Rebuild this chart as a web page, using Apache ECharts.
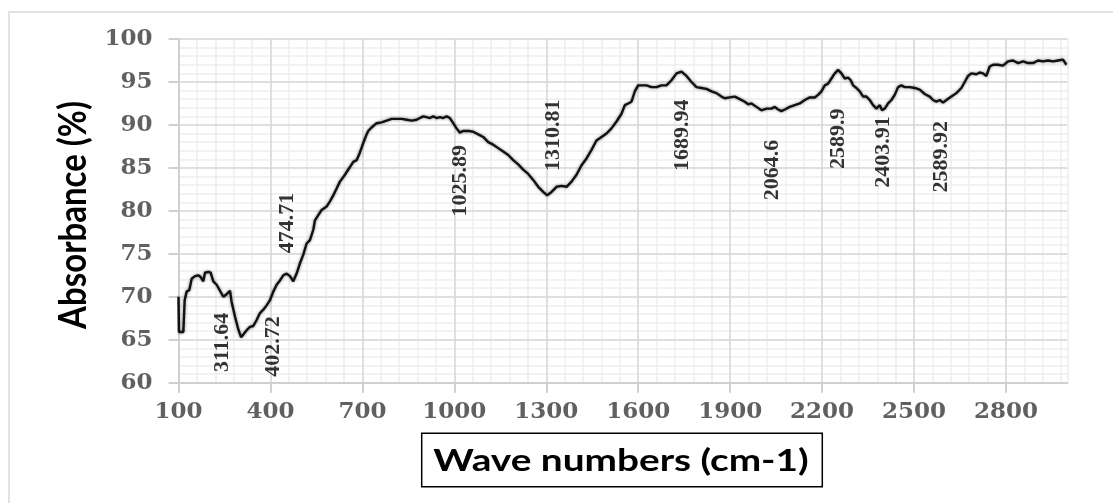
<!DOCTYPE html>
<html><head><meta charset="utf-8">
<script src="https://cdn.jsdelivr.net/npm/echarts@6/dist/echarts.min.js"></script>
<style>html,body{margin:0;padding:0;background:#fff}#c{width:1113px;height:503px}</style>
</head><body><div id="c"></div>
<script>
const waveNumbers = [100,101.6,115.8,120.1,126.6,135.3,143,153.8,164.7,172.3,181,186.4,197.3,205,213.6,224.5,235.4,246.2,257.1,268,273.4,284.3,295.2,304,311.5,322.3,333.2,344.1,355,365.8,376.7,387.6,398.4,409.3,420.2,431.1,441.9,452.8,463.7,474.5,485.4,496.3,507.2,518,528.9,539.8,
545.2,556.1,567,583.3,594.1,605,615.9,626.7,643,659.4,670.2,681.1,692,702.9,713.7,719.2,730,746.4,762.7,779,795.3,811.6,
827.9,844.2,860.5,876.8,887.7,898.6,909.4,920.3,931.2,942.1,952.9,963.8,974.7,985.6,996.4,1007.3,1018.2,1029,1045.4,1061.7,1078,1094.3,1110.6,1126.9,1143.2,1159.5,1175.8,1192.1,1208.4,1224.7,1241,1257.4,1273.7,
1290,1303,1317.2,1333.5,1349.8,1366.1,1382.4,1398.7,1415,1431.3,1447.6,1463.9,1480.2,1496.5,1512.8,1529.2,1545.5,1556.3,1567.2,1578.1,1588.9,1599.8,1610.7,1627,1643.3,1659.6,1675.9,1692.2,1708.5,1724.9,1741.2,1757.5,1773.8,1790.1,1806.4,1822.7,1839,1855.3,1871.6,
1882.5,1898.8,1915.1,1931.4,1947.8,1958.6,1969.5,1985.8,2002.1,2018.4,2034.7,2045.6,2056.5,2067.3,2078.2,2094.5,2110.8,2127.1,2143.4,2159.7,2176,2186.9,2197.8,2208.7,2219.5,2230.4,2241.3,2252.2,2263,2273.9,2284.8,2293.5,2301.1,2312,2322.8,2333.7,2344.6,2355.4,2366.3,2377.2,2388.1,2395.7,2404.4,2415.2,2426.1,2437,2447.8,2458.7,
2469.6,2485.9,2502.2,2518.5,2534.8,2551.1,2562,2572.9,2583.8,2594.6,2605.5,2621.8,2638.1,2654.4,2665.3,2676.2,2687,2703.3,2714.2,2725.1,2736,2746.8,2757.7,2774,2790.3,2806.6,2822.9,2839.3,2855.6,2871.9,2888.2,2904.5,2920.8,2937.1,2953.4,2969.7,2986,2997];
const absorbance = [70.0,65.9,65.9,69.6,70.6,70.8,72.1,72.4,72.5,72.3,71.8,72.8,72.9,72.8,71.8,71.4,70.7,70.0,70.3,70.7,69.4,67.7,66.2,65.3,65.6,66.1,66.5,66.6,67.3,68.1,68.5,69.0,69.6,70.6,71.4,71.9,72.5,72.7,72.4,71.8,72.7,73.9,74.9,76.2,76.6,77.8,
78.9,79.5,80.1,80.5,81.1,81.8,82.6,83.4,84.2,85.1,85.7,85.9,86.8,87.9,88.9,89.3,89.7,90.2,90.3,90.5,90.7,90.7,
90.7,90.6,90.5,90.6,90.8,91.0,90.9,90.8,91.0,90.8,90.9,90.8,91.0,90.8,90.2,89.6,89.1,89.3,89.3,89.2,88.9,88.6,88.0,87.7,87.3,86.9,86.5,85.9,85.4,84.8,84.3,83.6,82.8,
82.2,81.8,82.2,82.8,82.9,82.8,83.4,84.2,85.3,86.1,87.1,88.2,88.6,89.0,89.6,90.4,91.3,92.3,92.5,92.7,93.9,94.6,94.6,94.6,94.4,94.4,94.6,94.6,95.2,96.0,96.2,95.7,95.0,94.4,94.3,94.2,93.9,93.7,93.3,
93.1,93.2,93.3,93.0,92.7,92.4,92.5,92.1,91.7,91.9,91.9,92.1,91.8,91.6,91.8,92.1,92.3,92.5,92.9,93.2,93.2,93.5,93.9,94.6,94.8,95.4,96.0,96.4,96.0,95.4,95.5,95.2,94.6,94.3,93.9,93.3,93.3,92.9,92.3,91.9,92.3,91.7,91.9,92.5,92.9,93.5,94.4,94.6,
94.4,94.4,94.3,94.1,93.6,93.3,92.9,92.7,92.9,92.6,92.9,93.3,93.7,94.3,95.0,95.7,96.0,95.9,96.1,96.0,95.7,96.8,97.0,97.0,96.9,97.4,97.5,97.2,97.4,97.2,97.2,97.5,97.4,97.5,97.4,97.5,97.6,97.0];
const xTickValues = [100,400,700,1000,1300,1600,1900,2200,2500,2800];
const peakLabels = ['311.64','402.72','474.71','1025.89','1310.81','1689.94','2064.6','2589.9','2403.91','2589.92'];
const peakX = [242,408,454,1019,1323,1744,2038,2253,2400,2589];
const peakY = [64.7,64.2,78.6,83.5,88.8,88.8,84.75,88.4,86.85,86.3];
const xTitle = 'Wave numbers (cm-1)';
const yTitle = 'Absorbance (%)';

const chart = echarts.init(document.getElementById('c'), null, {renderer:'canvas'});
const lineData = waveNumbers.map((x,i)=>[x, absorbance[i]]);
const peakData = peakLabels.map((t,i)=>({name:t, value:[peakX[i], peakY[i]]}));
const axisGray = '#d0d0d0';
const labelStyle = {color:'#606060', fontFamily:'DejaVu Serif', fontWeight:'bold', fontSize:23, formatter:(v)=>String(v)};
chart.setOption({
  animation:false,
  backgroundColor:'#ffffff',
  grid:{left:178.5, right:45.7, top:39, bottom:120.3},
  xAxis:[
    {type:'value', min:100, max:3000, interval:300, z:1,
     axisLine:{show:true, lineStyle:{color:axisGray, width:2}},
     axisTick:{show:true, length:10, customValues:xTickValues, lineStyle:{color:axisGray, width:2}},
     axisLabel:Object.assign({customValues:xTickValues, margin:18, hideOverlap:false}, labelStyle),
     splitLine:{show:true, lineStyle:{color:'#d9d9d9', width:1.5}}},
    {type:'value', min:100, max:3000, interval:60, z:0,
     axisLine:{show:false}, axisTick:{show:false}, axisLabel:{show:false},
     splitLine:{show:true, lineStyle:{color:'#eeeeee', width:1.5}}}
  ],
  yAxis:[
    {type:'value', min:60, max:100, interval:5, z:1,
     axisLine:{show:true, lineStyle:{color:axisGray, width:2}},
     axisTick:{show:true, length:10, lineStyle:{color:axisGray, width:2}},
     axisLabel:Object.assign({margin:26}, labelStyle),
     splitLine:{show:true, lineStyle:{color:'#d9d9d9', width:1.5}}},
    {type:'value', min:60, max:100, interval:1, z:0,
     axisLine:{show:false}, axisTick:{show:false}, axisLabel:{show:false},
     splitLine:{show:true, lineStyle:{color:'#eeeeee', width:1.5}}}
  ],
  series:[
    {type:'line', xAxisIndex:0, yAxisIndex:0, data:lineData, symbol:'none', z:3, silent:true,
     lineStyle:{color:'#111', width:2.4, shadowColor:'rgba(0,0,0,0.5)', shadowBlur:3}},
    {type:'scatter', xAxisIndex:0, yAxisIndex:0, data:peakData, symbolSize:1, z:4, silent:true,
     itemStyle:{color:'rgba(0,0,0,0)'},
     label:{show:true, position:'inside', rotate:90, formatter:'{b}', color:'#000',
            fontFamily:'Liberation Serif', fontWeight:'bold', fontSize:22}}
  ],
  graphic:[
    {type:'rect', silent:true, z:-10, shape:{x:9, y:12, width:1300, height:700},
     style:{fill:'none', stroke:'#d9d9d9', lineWidth:1.5}},
    {type:'rect', silent:true, shape:{x:421.7, y:433.3, width:400.6, height:53.4},
     style:{fill:'#fff', stroke:'#000', lineWidth:1.5}},
    {type:'text', silent:true, x:621, y:461, scaleX:1.25,
     style:{text:xTitle, fontFamily:'Lato', fontWeight:'bold', fontSize:31, fill:'#000', align:'center', verticalAlign:'middle'}},
    {type:'text', silent:true, x:73.5, y:215, rotation:Math.PI/2, scaleY:1.15,
     style:{text:yTitle, fontFamily:'Lato', fontWeight:'bold', fontSize:33, fill:'#000', align:'center', verticalAlign:'middle'}}
  ]
});
</script></body></html>
